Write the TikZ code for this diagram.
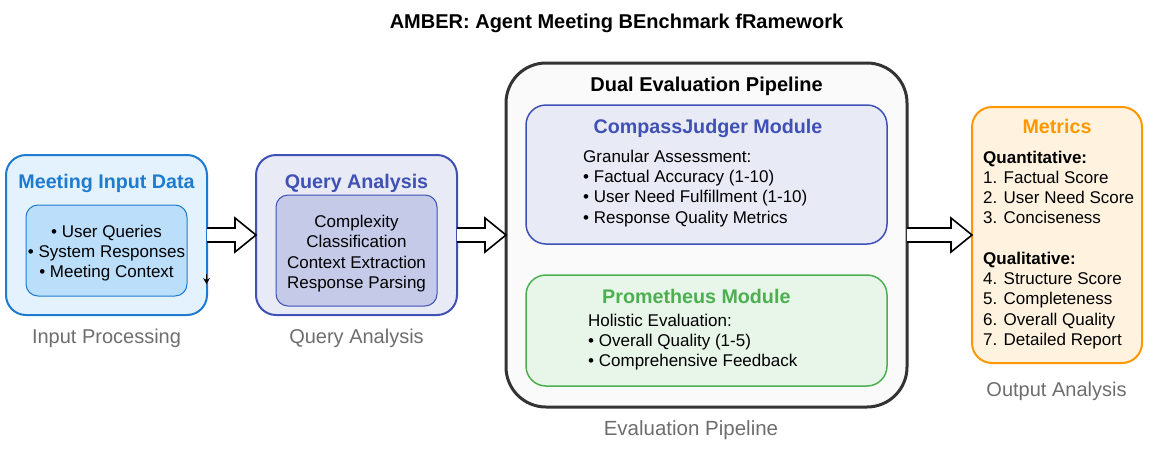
\documentclass[tikz,border=0pt]{standalone}
\usepackage{fontspec}
\setmainfont{Liberation Sans}
\usetikzlibrary{calc,arrows.meta}
\definecolor{bOne}{HTML}{1E7BD0}
\definecolor{bOneF}{HTML}{E3F2FD}
\definecolor{bOneIn}{HTML}{BBDEFB}
\definecolor{indg}{HTML}{3F51B5}
\definecolor{indgF}{HTML}{E8EAF6}
\definecolor{indgIn}{HTML}{C5CAE9}
\definecolor{grn}{HTML}{4CAF50}
\definecolor{grnF}{HTML}{E8F5E9}
\definecolor{orng}{HTML}{FF9800}
\definecolor{orngF}{HTML}{FFF3E0}
\definecolor{labgray}{HTML}{6E6E6E}
\definecolor{dark}{HTML}{333333}
\definecolor{pale}{HTML}{FAFAFA}
\newcommand\BlockArrow[2]{%
  \fill[white] ($(#1)+(0,-7)$) -- ($(#2)+(-21,-7)$) -- ($(#2)+(-21,-17)$) -- (#2) -- ($(#2)+(-21,17)$) -- ($(#2)+(-21,7)$) -- ($(#1)+(0,7)$) -- cycle;
  \draw[barrow] ($(#1)+(0,-7)$) -- ($(#2)+(-21,-7)$) -- ($(#2)+(-21,-17)$) -- (#2) -- ($(#2)+(-21,17)$) -- ($(#2)+(-21,7)$) -- ($(#1)+(0,7)$);}
\begin{document}
\begin{tikzpicture}[x=1pt,y=-1pt,
  box/.style={draw, line width=2pt, rounded corners=20pt, inner sep=0pt, outer sep=0pt},
  inbox/.style={draw, line width=1pt, rounded corners=12pt, inner sep=0pt, outer sep=0pt},
  body/.style={font=\fontsize{17}{20}\selectfont, inner sep=0pt, anchor=base},
  bodyw/.style={font=\fontsize{17}{20}\selectfont, inner sep=0pt, anchor=base west},
  ttl/.style={font=\bfseries\fontsize{19.7}{22}\selectfont, inner sep=0pt, anchor=base},
  capt/.style={font=\fontsize{20}{24}\selectfont, text=labgray, inner sep=0pt, anchor=base},
  barrow/.style={draw=black, line width=1.6pt, line join=miter}]
\useasboundingbox (0,0) rectangle (1156,453);
\fill[white] (0,0) rectangle (1156,453);

\node[font=\bfseries\fontsize{20}{24}\selectfont, inner sep=0pt, anchor=base] (title) at (616.5,28) {AMBER: Agent Meeting BEnchmark fRamework};

% Box 1
\node[box, draw=bOne, fill=bOneF, minimum width=201pt, minimum height=160pt] (b1) at (106.5,235) {};
\node[inbox, draw=bOne, fill=bOneIn, minimum width=161pt, minimum height=91pt] (b1in) at (106.5,250.5) {};
\node[ttl, text=bOne] (b1t) at (106.5,188) {Meeting Input Data};
\node[body] (b1l1) at (106.5,237) {• User Queries};
\node[body] (b1l2) at (106.5,257) {• System Responses};
\node[body] (b1l3) at (106.5,277) {• Meeting Context};
\node[capt] (c1) at (106.5,343) {Input Processing};
\coordinate (tkS) at (206.5,274);
\coordinate (tkE) at (206.5,284);
\draw[line width=0.8pt, -{Stealth[length=6pt,width=7pt]}] (tkS) -- (tkE);

% Box 2
\node[box, draw=indg, fill=indgF, minimum width=201pt, minimum height=160pt] (b2) at (356.5,235) {};
\node[inbox, draw=indg, fill=indgIn, minimum width=161pt, minimum height=111pt] (b2in) at (356.5,250.5) {};
\node[ttl, text=indg] (b2t) at (356.5,188) {Query Analysis};
\node[body] (b2l1) at (356.5,227) {Complexity};
\node[body] (b2l2) at (356.5,247.5) {Classification};
\node[body] (b2l3) at (356.5,268) {Context Extraction};
\node[body] (b2l4) at (356.5,288) {Response Parsing};
\node[capt] (c2) at (356.5,343) {Query Analysis};

% Big box
\node[draw=dark, fill=pale, line width=3pt, rounded corners=40pt, inner sep=0pt, outer sep=0pt, minimum width=401pt, minimum height=344pt] (bb) at (706.5,235) {};
\node[font=\bfseries\fontsize{20}{24}\selectfont, inner sep=0pt, anchor=base] (bbt) at (706.5,91.5) {Dual Evaluation Pipeline};

\node[box, line width=1.5pt, draw=indg, fill=indgF, minimum width=361pt, minimum height=139pt] (cj) at (706.5,174.5) {};
\node[ttl, text=indg] (cjt) at (708,133) {CompassJudger Module};
\node[bodyw] (cj1) at (583,162) {Granular Assessment:};
\node[bodyw] (cj2) at (583,182) {• Factual Accuracy (1-10)};
\node[bodyw] (cj3) at (583,202.5) {• User Need Fulfillment (1-10)};
\node[bodyw] (cj4) at (583,223) {• Response Quality Metrics};

\node[box, line width=1.5pt, draw=grn, fill=grnF, minimum width=361pt, minimum height=111pt] (pm) at (706.5,330.5) {};
\node[ttl, text=grn, anchor=base west] (pmt) at (602,303) {Prometheus Module};
\node[bodyw] (pm1) at (588,326.5) {Holistic Evaluation:};
\node[bodyw] (pm2) at (588,346.5) {• Overall Quality (1-5)};
\node[bodyw] (pm3) at (588,366.5) {• Comprehensive Feedback};
\node[capt, font=\fontsize{20.5}{24}\selectfont] (c3) at (691,435) {Evaluation Pipeline};

% Metrics
\node[box, draw=orng, fill=orngF, minimum width=170pt, minimum height=256pt] (mt) at (1057,235) {};
\node[ttl, text=orng] (mtt) at (1057,133) {Metrics};
\node[bodyw, font=\bfseries\fontsize{17}{20}\selectfont] (m0) at (983,163) {Quantitative:};
\node[bodyw] (m1) at (983,183) {1. Factual Score};
\node[bodyw] (m2) at (983,203.5) {2. User Need Score};
\node[bodyw] (m3) at (983,223.5) {3. Conciseness};
\node[bodyw, font=\bfseries\fontsize{17}{20}\selectfont] (m4) at (983,264) {Qualitative:};
\node[bodyw] (m5) at (983,284) {4. Structure Score};
\node[bodyw] (m6) at (983,304.5) {5. Completeness};
\node[bodyw] (m7) at (983,325) {6. Overall Quality};
\node[bodyw] (m8) at (983,345.5) {7. Detailed Report};
\node[capt] (c4) at (1056.5,396) {Output Analysis};

% Block arrows
\BlockArrow{b1.east}{b2.west}
\BlockArrow{b2.east}{bb.west}
\BlockArrow{bb.east}{mt.west}
\end{tikzpicture}
\end{document}
